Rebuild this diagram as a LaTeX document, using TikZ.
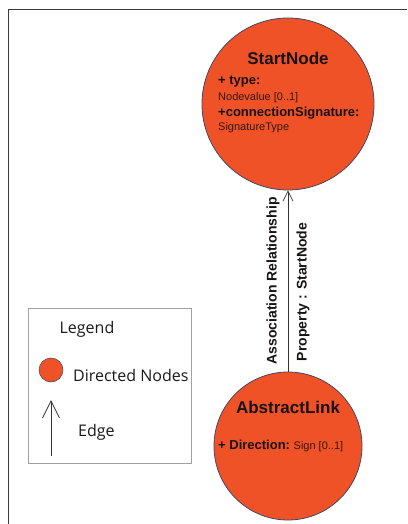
\documentclass[tikz,border=0pt]{standalone}
\usepackage{fontspec}
\setmainfont{Liberation Sans}
\newfontfamily\legendfont{Open Sans}
\usetikzlibrary{arrows.meta}
\definecolor{nodefill}{RGB}{240,82,40}
\definecolor{nodeborder}{RGB}{70,70,100}
\definecolor{boldtext}{RGB}{25,18,18}
\definecolor{regtext}{RGB}{55,22,15}
\definecolor{framegray}{RGB}{60,60,60}
\definecolor{legendgray}{RGB}{160,160,160}
\tikzset{
  bignode/.style={circle, draw=nodeborder, line width=0.8pt, fill=nodefill, inner sep=0pt},
  titletext/.style={font=\fontsize{17}{19}\selectfont\bfseries, text=boldtext, inner sep=0pt},
  attrbold/.style={font=\fontsize{13}{15}\selectfont\bfseries, text=boldtext, inner sep=0pt, anchor=west},
  attrreg/.style={font=\fontsize{11}{13}\selectfont, text=regtext, inner sep=0pt, anchor=west},
  edgelabel/.style={font=\fontsize{14}{16}\selectfont\bfseries, text=boldtext, inner sep=0pt, rotate=90},
  edgeline/.style={draw=black!80, line width=0.7pt, -{Straight Barb[length=10pt,width=10pt,line width=0.7pt]}},
  legendtext/.style={font=\legendfont\fontsize{16}{18}\selectfont, text=black!90, inner sep=0pt},
}
\begin{document}
\begin{tikzpicture}[x=1pt,y=-1pt]
\useasboundingbox (0,0) rectangle (407,524);
% frame
\draw[framegray, line width=1pt] (8,524) -- (8,10) -- (407,10);
% main nodes
\node[bignode, minimum size=172pt] (sn) at (288,104) {};
\node[bignode, minimum size=148pt] (al) at (288,446) {};
% StartNode texts
\node[titletext] (snt) at (288,58) {StartNode};
\node[attrbold] (sna1) at (218,82) {+ type:};
\node[attrreg] (sna2) at (218,98) {Nodevalue [0..1]};
\node[attrbold] (sna3) at (218,113) {+connectionSignature:};
\node[attrreg] (sna4) at (218,128) {SignatureType};
% AbstractLink texts
\node[titletext] (alt) at (288,407) {AbstractLink};
\node[attrbold] (ala1) at (218,446) {+ Direction:\ {\fontsize{11}{13}\selectfont\mdseries\color{regtext}Sign [0..1]}};
% edge
\draw[edgeline] (al.north) -- (sn.south);
\node[edgelabel] (el1) at (273,281) {Association Relationship};
\node[edgelabel] (el2) at (303,292) {Property : StartNode};
% legend
\draw[legendgray, line width=0.6pt] (28,308) rectangle (191,463);
\node[legendtext] (lgt) at (87,329) {Legend};
\node[bignode, minimum size=24pt, line width=0.5pt] (lgc) at (51,370) {};
\node[legendtext, anchor=west] (lgn) at (73,375) {Directed Nodes};
\coordinate (lga) at (51,456);
\coordinate (lgb) at (51,400);
\draw[draw=black!80, line width=0.8pt, -{Straight Barb[length=17pt,width=17pt,line width=0.8pt]}] (lga) -- (lgb);
\node[legendtext, anchor=west] (lge) at (78,432) {Edge};
\end{tikzpicture}
\end{document}
